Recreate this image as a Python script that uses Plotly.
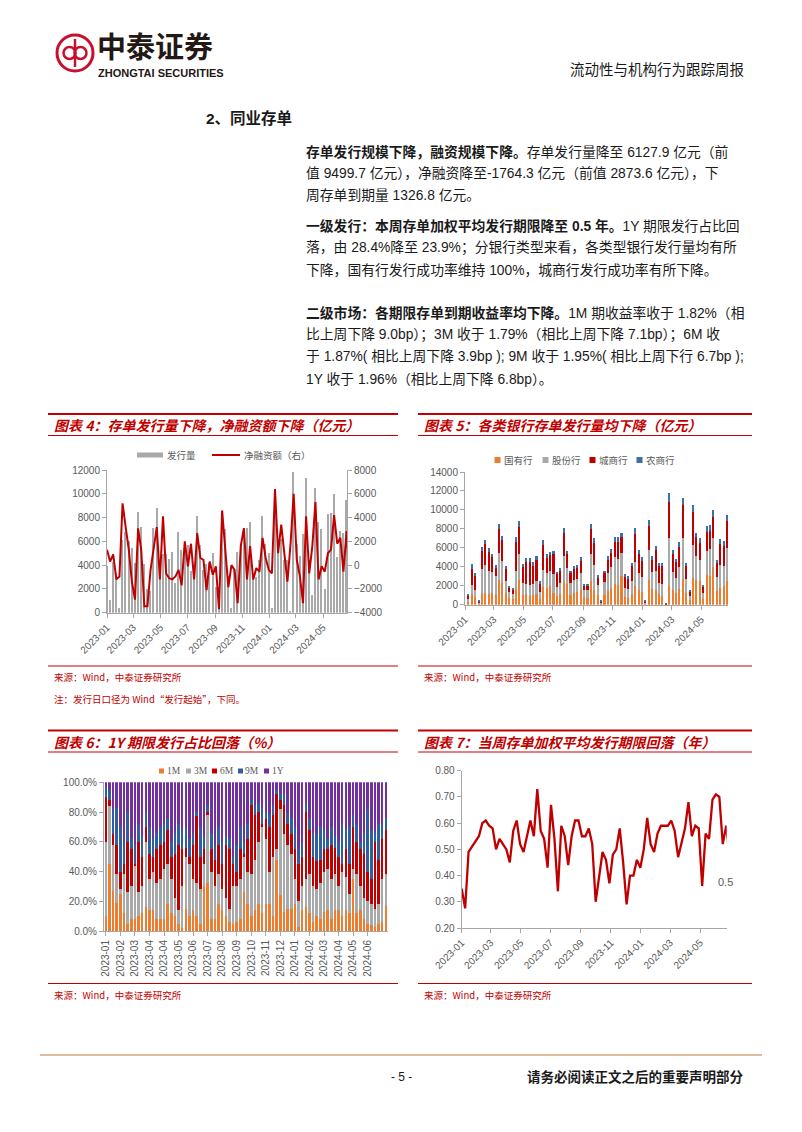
import plotly.graph_objects as go
import pandas as pd

W, H = 802, 1132
OFF = 8  # the page body margin shifts the figure by 8px; compensate
def px(x): return (x - OFF) / W
def py(y): return 1 - (y - OFF) / H

# ---------------- data ----------------
week_dates = [d.strftime("%Y-%m-%d") for d in pd.date_range("2023-01-01", periods=79, freq="7D")]

# Chart 4: CD issuance (bars, left) and net financing (line, right), 100m CNY
issuance_name, netfin_name = "发行量", "净融资额（右）"
issuance = [3900, 1100, 4300, 3300, 400, 6100, 6800, 6000, 5400, 4200, 8500,
            7200, 4100, 2000, 1800, 7100, 8800, 4300, 4900, 4900, 4500,
            5100, 2500, 6800, 5300, 5600, 5700, 3500, 3900, 8100, 5700,
            3600, 4100, 4200, 5000, 2200, 2200, 8500, 7000, 3100, 400,
            3600, 5100, 5900, 7100, 7100, 7600, 3200, 3000, 4400, 8100,
            5800, 5000, 400, 8900, 5100, 6200, 4400, 4400, 100, 11800,
            5800, 4800, 6600, 11300, 4400, 1500, 10500, 7600, 7000, 2000,
            8300, 8400, 10000, 4700, 6900, 6700, 9499.7, 6127.9]
net_fin = [1300, 300, 900, -1200, -950, 5200, 3200, 1300, -1400, -2900,
           3100, 1300, -3450, -3450, -400, 1300, 3200, -1200, 4100, -700,
           -1100, -1200, -950, -400, -1700, 2000, -100, 1800, -1200, 2700,
           600, 450, -2100, 300, -800, -100, -3700, 4600, 1000, -1850,
           0, -400, -3200, 1600, 3100, -1200, 1600, -1200, -250, -550,
           2300, 600, -400, -700, 6400, 1000, 3400, 1000, -1400, 1800,
           6000, 450, -950, -3200, 4100, -700, 1600, 5300, -1200, -100,
           -550, 1000, 1300, 4200, 1800, 2300, -550, 2873.6, -1764.3]

# Chart 5: issuance by bank type (weeks 2..79)
bank_dates = week_dates[1:]
bank_names = ["国有行", "股份行", "城商行", "农商行"]
soe = [300, 1100, 800, 100, 1100, 1200, 1100, 1200, 1000, 2600,
       2300, 1200, 700, 600, 1800, 2600, 1000, 1100, 900, 1000,
       1100, 600, 1900, 1800, 2000, 1200, 900, 1100, 2400, 2200,
       1000, 1200, 1300, 1500, 800, 700, 2500, 1600, 1000, 100,
       1000, 1400, 1700, 2200, 2100, 3000, 800, 700, 1100, 2000,
       1500, 1300, 100, 2600, 1700, 1600, 1100, 900, 40, 2000,
       1600, 1200, 1700, 2700, 1200, 500, 2800, 2600, 2500, 600,
       3100, 3000, 4000, 1400, 1800, 2000, 2500, 1400]
joint = [300, 1000, 800, 100, 2700, 3000, 2500, 2300, 2000, 2900,
         2300, 1300, 600, 500, 1800, 2700, 1300, 1100, 1200, 1200,
         1400, 700, 1800, 1500, 1600, 2000, 1000, 1200, 2700, 1700,
         1300, 1400, 1400, 1800, 700, 800, 2800, 2600, 1100, 100,
         1400, 1900, 2300, 2800, 2700, 2500, 1000, 1000, 1400, 2500,
         1800, 1600, 100, 3200, 1700, 2000, 1200, 1300, 30, 5000,
         1900, 1600, 2300, 4300, 1500, 400, 3500, 2500, 2200, 600,
         2600, 2900, 3000, 1500, 2400, 2100, 3500, 2200]
city = [400, 1700, 1400, 150, 1900, 2200, 2000, 1500, 900, 2500,
        2200, 1300, 500, 500, 3000, 2900, 1700, 2300, 2400, 1900,
        2200, 900, 2600, 1600, 1600, 2100, 1300, 1300, 2500, 1400,
        1000, 1200, 1200, 1300, 500, 500, 2700, 2300, 800, 150,
        900, 1400, 1500, 1600, 1800, 1600, 1200, 1100, 1600, 3000,
        2100, 1700, 150, 2500, 1300, 2200, 1800, 1900, 20, 3800,
        1900, 1700, 2100, 3500, 1400, 500, 3500, 2000, 1800, 700,
        2000, 1900, 2300, 1500, 2200, 2100, 2800, 2000]
rural = [100, 500, 300, 50, 400, 400, 400, 400, 300, 500,
         400, 300, 200, 200, 500, 600, 300, 400, 400, 400,
         400, 300, 500, 400, 400, 400, 300, 300, 500, 400,
         300, 300, 300, 400, 200, 200, 500, 500, 200, 50,
         300, 400, 400, 500, 500, 500, 200, 200, 300, 600,
         400, 400, 50, 600, 400, 400, 300, 300, 10, 1000,
         400, 300, 500, 800, 300, 100, 700, 500, 500, 100,
         600, 600, 700, 300, 500, 500, 700, 500]

# Chart 6: tenor shares (%)
tenor_names = ["1M", "3M", "6M", "9M", "1Y"]
m1 = [10, 45, 27, 19, 25, 12, 5, 8, 8, 10,
      12, 16, 14, 14, 8, 8, 8, 18, 12, 10,
      5, 2, 15, 10, 14, 10, 5, 30, 32, 8,
      8, 18, 14, 10, 6, 5, 6, 8, 26, 18,
      10, 14, 18, 12, 18, 18, 10, 48, 24, 13,
      15, 15, 18, 3, 14, 16, 12, 6, 10, 8,
      13, 14, 8, 14, 14, 10, 14, 12, 35, 12,
      14, 8, 5, 4, 3, 5, 6, 17]
m3 = [50, 39, 31, 19, 3, 26, 21, 22, 36, 16,
      18, 44, 21, 26, 24, 27, 34, 27, 23, 12,
      9, 28, 35, 35, 21, 22, 23, 15, 46, 32,
      22, 20, 14, 12, 9, 25, 24, 27, 24, 22,
      28, 34, 42, 58, 44, 22, 40, 7, 58, 52,
      43, 37, 17, 17, 16, 19, 26, 24, 18, 24,
      27, 28, 27, 24, 16, 30, 22, 13, 7, 26,
      16, 14, 15, 14, 12, 13, 29, 21]
m6 = [30, 4, 7, 20, 12, 7, 34, 25, 1, 34,
      20, 10, 17, 10, 23, 23, 18, 23, 15, 30,
      44, 25, 6, 5, 23, 45, 22, 10, 2, 15,
      18, 20, 17, 36, 40, 15, 10, 20, 2, 22,
      47, 30, 20, 2, 13, 30, 28, 37, 6, 20,
      14, 13, 20, 25, 20, 45, 30, 20, 19, 16,
      15, 13, 23, 18, 20, 5, 19, 20, 28, 22,
      25, 30, 20, 17, 45, 30, 27, 30]
m9 = [7, 7, 17, 25, 30, 15, 20, 7, 13, 12,
      14, 10, 18, 12, 11, 12, 12, 8, 10, 14,
      14, 13, 14, 12, 8, 3, 20, 8, 5, 11,
      10, 12, 15, 6, 7, 5, 18, 15, 8, 10,
      3, 7, 6, 10, 5, 8, 7, 3, 4, 7,
      8, 11, 15, 10, 10, 6, 7, 16, 18, 22,
      13, 7, 12, 8, 10, 27, 13, 25, 8, 12,
      5, 14, 42, 33, 6, 24, 9.6, 8.1]
y1 = [3, 5, 18, 17, 30, 40, 20, 38, 42, 28,
      36, 20, 30, 38, 34, 30, 28, 24, 40, 34,
      28, 32, 30, 38, 34, 20, 30, 37, 15, 34,
      42, 30, 40, 36, 38, 50, 42, 30, 40, 28,
      12, 15, 14, 18, 20, 22, 15, 5, 8, 8,
      20, 24, 30, 45, 40, 14, 25, 34, 35, 30,
      32, 38, 30, 36, 40, 28, 32, 30, 22, 28,
      40, 34, 18, 32, 34, 28, 28.4, 23.9]
tenor_idx = list(range(78))
tenor_tickvals = list(range(0, 73, 4))
tenor_ticktext = ["2023-01", "2023-02", "2023-03", "2023-04", "2023-04", "2023-05",
                  "2023-06", "2023-07", "2023-08", "2023-09", "2023-10", "2023-11",
                  "2023-12", "2024-01", "2024-02", "2024-03", "2024-04", "2024-05",
                  "2024-06"]

# Chart 7: weighted average issuance term (years)
term = [0.35, 0.275, 0.49, 0.51, 0.53, 0.55, 0.60, 0.61, 0.59, 0.58,
        0.50, 0.54, 0.52, 0.50, 0.45, 0.57, 0.61, 0.52, 0.49, 0.55,
        0.61, 0.55, 0.73, 0.57, 0.54, 0.43, 0.67, 0.54, 0.34, 0.59,
        0.55, 0.44, 0.55, 0.61, 0.61, 0.55, 0.55, 0.58, 0.52, 0.30,
        0.40, 0.49, 0.46, 0.37, 0.48, 0.50, 0.58, 0.45, 0.29, 0.40,
        0.40, 0.46, 0.43, 0.50, 0.62, 0.52, 0.49, 0.56, 0.59, 0.59,
        0.59, 0.61, 0.57, 0.47, 0.53, 0.58, 0.68, 0.55, 0.59, 0.58,
        0.36, 0.56, 0.54, 0.69, 0.71, 0.70, 0.52, 0.59, 0.47]
term_label = "0.5"

# ---------------- styles ----------------
RED = "#c00000"
GRAY_BAR = "#a9a9a9"
ORANGE = "#ed7d31"
BLUE = "#2f5f9e"
RURAL_BLUE = "#3d6fa8"
PURPLE = "#7030a0"
AXIS = "#a6a6a6"
TICK = "#595959"
CJK = "Liberation Sans, Noto Sans CJK SC, sans-serif"
DAY_MS = 86400000
bank_colors = [ORANGE, GRAY_BAR, RED, RURAL_BLUE]
tenor_colors = [ORANGE, GRAY_BAR, RED, BLUE, PURPLE]

fig = go.Figure()

# Chart 4
fig.add_trace(go.Bar(x=week_dates, y=issuance, name=issuance_name, marker_color=GRAY_BAR,
                     marker_line_width=0, width=3.3 * DAY_MS, xaxis="x", yaxis="y"))
fig.add_trace(go.Scatter(x=week_dates, y=net_fin, name=netfin_name, mode="lines",
                         line=dict(color=RED, width=2), xaxis="x", yaxis="y2"))

# Chart 5
for name, vals, col in zip(bank_names, [soe, joint, city, rural], bank_colors):
    fig.add_trace(go.Bar(x=bank_dates, y=vals, name=name, marker_color=col, marker_line_width=0,
                         width=4.3 * DAY_MS, xaxis="x2", yaxis="y3"))

# Chart 6
for name, vals, col in zip(tenor_names, [m1, m3, m6, m9, y1], tenor_colors):
    fig.add_trace(go.Bar(x=tenor_idx, y=vals, name=name, marker_color=col, marker_line_width=0,
                         width=0.68, xaxis="x3", yaxis="y4"))

# Chart 7
fig.add_trace(go.Scatter(x=week_dates, y=term, mode="lines", line=dict(color=RED, width=2.3),
                         xaxis="x4", yaxis="y5"))

ax = dict(showline=True, linecolor=AXIS, linewidth=1, ticks="outside", ticklen=4,
          tickcolor=AXIS, showgrid=False, zeroline=False, automargin=False,
          tickfont=dict(family="Liberation Sans, Arial", size=10, color=TICK))
date_ax = dict(ax, type="date", tickformat="%Y-%m", dtick="M2", tick0="2023-01-01", tickangle=-45)

fig.update_layout(
    width=W, height=H, margin=dict(l=0, r=0, t=0, b=0, pad=0, autoexpand=False),
    paper_bgcolor="white", plot_bgcolor="white", showlegend=False,
    barmode="stack", font=dict(family=CJK, size=10, color=TICK),
    xaxis=dict(date_ax, domain=[px(107), px(347)], anchor="y",
               range=["2023-01-01", "2024-06-24"]),
    yaxis=dict(ax, domain=[py(612.7), py(470)], anchor="x", range=[0, 12000], dtick=2000,
               tickformat="d"),
    yaxis2=dict(ax, overlaying="y", side="right", anchor="x", range=[-4000, 8000], dtick=2000,
                tickformat="d"),
    xaxis2=dict(date_ax, domain=[px(465), px(728)], anchor="y3",
                range=["2023-01-01", "2024-06-25"]),
    yaxis3=dict(ax, domain=[py(604.7), py(472)], anchor="x2", range=[0, 14000], dtick=2000,
                tickformat="d"),
    xaxis3=dict(ax, domain=[px(104), px(388)], anchor="y4", range=[-0.5, 77.6],
                tickvals=tenor_tickvals, ticktext=tenor_ticktext, tickangle=-90),
    yaxis4=dict(ax, domain=[py(931), py(782.3)], anchor="x3", range=[0, 100], dtick=20,
                tickformat=".1f", ticksuffix="%"),
    xaxis4=dict(date_ax, domain=[px(461.7), px(726.7)], anchor="y5",
                range=["2023-01-01", "2024-06-24"]),
    yaxis5=dict(ax, domain=[py(928), py(770.7)], anchor="x4", range=[0.2, 0.8], dtick=0.1,
                tickformat=".2f"),
)

# ---------------- page decoration ----------------
shapes = []
annos = []

def text(x, y, s, size, color="#1a1a1a", xanchor="left", family=CJK):
    annos.append(dict(x=px(x), y=py(y), xref="paper", yref="paper", text=s, showarrow=False,
                      xanchor=xanchor, yanchor="middle", borderpad=0,
                      font=dict(size=size, color=color, family=family)))

def hline(x0, x1, y, color=RED, width=1):
    shapes.append(dict(type="line", xref="paper", yref="paper", x0=px(x0), x1=px(x1),
                       y0=py(y), y1=py(y), line=dict(color=color, width=width)))

def rect(x0, x1, y0, y1, color):
    shapes.append(dict(type="rect", xref="paper", yref="paper", x0=px(x0), x1=px(x1),
                       y0=py(y1), y1=py(y0), fillcolor=color, line=dict(width=0)))

# custom legends
rect(137, 163, 452.5, 457.5, GRAY_BAR)
text(166, 455, issuance_name, 9.5, color=TICK, family="Noto Sans CJK SC")
hline(212, 240, 455, RED, 2)
text(243, 455, netfin_name, 9.5, color=TICK, family="Noto Sans CJK SC")

for xs, name, col in zip([494.5, 542.5, 589.5, 636.5], bank_names, bank_colors):
    rect(xs, xs + 6, 457, 463, col)
    text(xs + 8, 460, name, 9.5, color=TICK, family="Noto Sans CJK SC")

for xs, name, col in zip([159, 186, 212, 238, 264], tenor_names, tenor_colors):
    rect(xs, xs + 5, 768.5, 773.5, col)
    text(xs + 6.5, 771, name, 9.5, color=TICK, family="Liberation Serif")

# logo
LOGO_RED = "#c8102e"
def circle(cx, cy, r, width):
    shapes.append(dict(type="circle", xref="paper", yref="paper", x0=px(cx - r), x1=px(cx + r),
                       y0=py(cy + r), y1=py(cy - r), line=dict(color=LOGO_RED, width=width)))
circle(75, 53, 18, 3)
circle(69.5, 53, 6, 2.5)
circle(80.5, 53, 6, 2.5)
shapes.append(dict(type="line", xref="paper", yref="paper", x0=px(75), x1=px(75), y0=py(39),
                   y1=py(67), line=dict(color=LOGO_RED, width=2.5)))
text(96, 45, "<b>中泰证券</b>", 29, color="#231815", family="Noto Sans CJK SC")
text(97, 73.5, "<b>ZHONGTAI SECURITIES</b>", 11, color="#231815", family="Liberation Sans Narrow, Liberation Sans")
text(745, 70, "流动性与机构行为跟踪周报", 14.5, color="#1a1a1a", xanchor="right")

# section heading and body
text(205, 118, "<b>2、同业存单</b>", 15.5)
body = [
    (152, "<b>存单发行规模下降，融资规模下降。</b>存单发行量降至 6127.9 亿元（前"),
    (173, "值 9499.7 亿元），净融资降至-1764.3 亿元（前值 2873.6 亿元），下"),
    (195, "周存单到期量 1326.8 亿元。"),
    (226, "<b>一级发行：本周存单加权平均发行期限降至 0.5 年。</b>1Y 期限发行占比回"),
    (248, "落，由 28.4%降至 23.9%；分银行类型来看，各类型银行发行量均有所"),
    (270, "下降，国有行发行成功率维持 100%，城商行发行成功率有所下降。"),
    (313, "<b>二级市场：各期限存单到期收益率均下降。</b>1M 期收益率收于 1.82%（相"),
    (335, "比上周下降 9.0bp）；3M 收于 1.79%（相比上周下降 7.1bp）；6M 收"),
    (357, "于 1.87%( 相比上周下降 3.9bp ); 9M 收于 1.95%( 相比上周下行 6.7bp );"),
    (379, "1Y 收于 1.96%（相比上周下降 6.8bp）。"),
]
for y, s in body:
    text(305, y, s, 13.8)

# chart frames and titles
def frame(x0, x1, ytop, ytitle, ysub, ybot, ysrc, title, sources):
    hline(x0, x1, ytop, RED, 2)
    hline(x0, x1, ysub, RED, 1)
    hline(x0, x1, ybot, RED, 1)
    text(x0 + 5, ytitle, "<b><i>" + title + "</i></b>", 14, color=RED, family="Noto Sans CJK SC")
    for i, s in enumerate(sources):
        text(x0 + 5, ysrc + 21.5 * i, s, 9.5, color=RED, family="Noto Sans CJK SC")

frame(48, 398, 414, 425, 435.5, 666, 677, "图表 4：存单发行量下降，净融资额下降（亿元）",
      ["来源：Wind，中泰证券研究所", "注：发行日口径为 Wind“发行起始”，下同。"])
frame(418, 752, 414, 425, 435.5, 666, 677, "图表 5：各类银行存单发行量均下降（亿元）",
      ["来源：Wind，中泰证券研究所"])
frame(48, 398, 730.5, 742, 752, 983.5, 994.5, "图表 6：1Y 期限发行占比回落（%）",
      ["来源：Wind，中泰证券研究所"])
frame(418, 752, 730.5, 742, 752, 983.5, 994.5, "图表 7：当周存单加权平均发行期限回落（年）",
      ["来源：Wind，中泰证券研究所"])

# data label on chart 7
text(725, 882, term_label, 11, color=TICK, xanchor="center", family="Liberation Sans")

# footer
hline(40, 762, 1055, "#d9a47c", 1.5)
text(401, 1077, "- 5 -", 12, color="#1a1a1a", xanchor="center")
text(745, 1077, "<b>请务必阅读正文之后的重要声明部分</b>", 13.5, color="#1a1a1a", xanchor="right")

fig.update_layout(shapes=shapes, annotations=annos)
fig.write_html("out.html")
